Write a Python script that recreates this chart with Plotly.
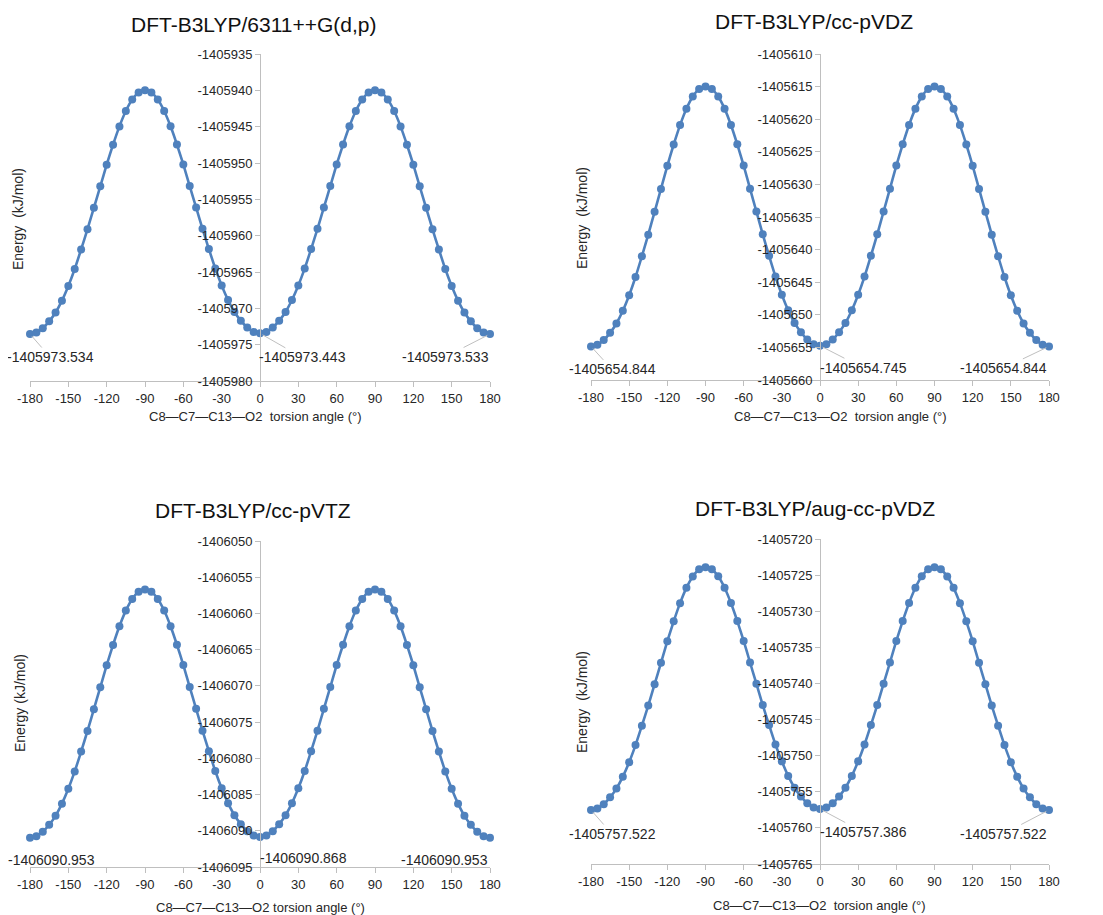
import plotly.graph_objects as go

# page is 1103x915; the html body has an 8px margin at top/left
PAGE_W, PAGE_H = 1103, 915
OFF = 8
W, H = PAGE_W - OFF, PAGE_H - OFF

angles = list(range(-180, 185, 5))

titles = ["DFT-B3LYP/6311++G(d,p)", "DFT-B3LYP/cc-pVDZ",
          "DFT-B3LYP/cc-pVTZ", "DFT-B3LYP/aug-cc-pVDZ"]

energy_6311 = [
    -1405973.534, -1405973.33, -1405972.73, -1405971.79, -1405970.58, -1405968.94,
    -1405966.92, -1405964.58, -1405961.90, -1405959.11, -1405956.16, -1405953.21,
    -1405950.23, -1405947.48, -1405944.96, -1405942.85, -1405941.27, -1405940.30,
    -1405940.00, -1405940.30, -1405941.27, -1405942.84, -1405944.95, -1405947.46,
    -1405950.20, -1405953.18, -1405956.12, -1405959.06, -1405961.84, -1405964.51,
    -1405966.85, -1405968.86, -1405970.50, -1405971.70, -1405972.64, -1405973.24,
    -1405973.443,
    -1405973.24, -1405972.64, -1405971.70, -1405970.50, -1405968.86, -1405966.85,
    -1405964.51, -1405961.84, -1405959.06, -1405956.12, -1405953.18, -1405950.20,
    -1405947.46, -1405944.95, -1405942.84, -1405941.27, -1405940.30, -1405940.00,
    -1405940.30, -1405941.27, -1405942.85, -1405944.96, -1405947.48, -1405950.23,
    -1405953.21, -1405956.16, -1405959.11, -1405961.90, -1405964.58, -1405966.92,
    -1405968.94, -1405970.58, -1405971.79, -1405972.73, -1405973.33, -1405973.533,
]

energy_ccpvdz = [
    -1405654.844, -1405654.60, -1405653.88, -1405652.77, -1405651.33, -1405649.38,
    -1405646.99, -1405644.20, -1405641.02, -1405637.71, -1405634.20, -1405630.70,
    -1405627.15, -1405623.88, -1405620.90, -1405618.39, -1405616.51, -1405615.36,
    -1405615.00, -1405615.36, -1405616.51, -1405618.38, -1405620.88, -1405623.86,
    -1405627.12, -1405630.66, -1405634.16, -1405637.66, -1405640.96, -1405644.14,
    -1405646.92, -1405649.30, -1405651.25, -1405652.68, -1405653.80, -1405654.51,
    -1405654.745,
    -1405654.51, -1405653.80, -1405652.68, -1405651.25, -1405649.30, -1405646.92,
    -1405644.14, -1405640.96, -1405637.66, -1405634.16, -1405630.66, -1405627.12,
    -1405623.86, -1405620.88, -1405618.38, -1405616.51, -1405615.36, -1405615.00,
    -1405615.36, -1405616.51, -1405618.39, -1405620.90, -1405623.88, -1405627.15,
    -1405630.70, -1405634.20, -1405637.71, -1405641.02, -1405644.20, -1405646.99,
    -1405649.38, -1405651.33, -1405652.77, -1405653.88, -1405654.60, -1405654.844,
]

energy_ccpvtz = [
    -1406090.953, -1406090.74, -1406090.13, -1406089.17, -1406087.94, -1406086.26,
    -1406084.20, -1406081.81, -1406079.07, -1406076.22, -1406073.21, -1406070.19,
    -1406067.15, -1406064.34, -1406061.77, -1406059.61, -1406058.00, -1406057.01,
    -1406056.70, -1406057.01, -1406058.00, -1406059.60, -1406061.76, -1406064.32,
    -1406067.12, -1406070.16, -1406073.17, -1406076.18, -1406079.01, -1406081.75,
    -1406084.14, -1406086.19, -1406087.86, -1406089.09, -1406090.05, -1406090.66,
    -1406090.868,
    -1406090.66, -1406090.05, -1406089.09, -1406087.86, -1406086.19, -1406084.14,
    -1406081.75, -1406079.01, -1406076.18, -1406073.17, -1406070.16, -1406067.12,
    -1406064.32, -1406061.76, -1406059.60, -1406058.00, -1406057.01, -1406056.70,
    -1406057.01, -1406058.00, -1406059.61, -1406061.77, -1406064.34, -1406067.15,
    -1406070.19, -1406073.21, -1406076.22, -1406079.07, -1406081.81, -1406084.20,
    -1406086.26, -1406087.94, -1406089.17, -1406090.13, -1406090.74, -1406090.953,
]

energy_augccpvdz = [
    -1405757.522, -1405757.32, -1405756.71, -1405755.77, -1405754.56, -1405752.91,
    -1405750.90, -1405748.54, -1405745.85, -1405743.06, -1405740.10, -1405737.15,
    -1405734.15, -1405731.40, -1405728.88, -1405726.76, -1405725.18, -1405724.20,
    -1405723.90, -1405724.20, -1405725.17, -1405726.75, -1405728.86, -1405731.37,
    -1405734.11, -1405737.10, -1405740.04, -1405742.99, -1405745.77, -1405748.45,
    -1405750.79, -1405752.80, -1405754.44, -1405755.65, -1405756.59, -1405757.19,
    -1405757.386,
    -1405757.19, -1405756.59, -1405755.65, -1405754.44, -1405752.80, -1405750.79,
    -1405748.45, -1405745.77, -1405742.99, -1405740.04, -1405737.10, -1405734.11,
    -1405731.37, -1405728.86, -1405726.75, -1405725.17, -1405724.20, -1405723.90,
    -1405724.20, -1405725.18, -1405726.76, -1405728.88, -1405731.40, -1405734.15,
    -1405737.15, -1405740.10, -1405743.06, -1405745.85, -1405748.54, -1405750.90,
    -1405752.91, -1405754.56, -1405755.77, -1405756.71, -1405757.32, -1405757.522,
]

series = [energy_6311, energy_ccpvdz, energy_ccpvtz, energy_augccpvdz]

# labelled points
label_angles = [-180, 0, 180]
labels_6311 = ["-1405973.534", "-1405973.443", "-1405973.533"]
labels_ccpvdz = ["-1405654.844", "-1405654.745", "-1405654.844"]
labels_ccpvtz = ["-1406090.953", "-1406090.868", "-1406090.953"]
labels_augccpvdz = ["-1405757.522", "-1405757.386", "-1405757.522"]
point_labels = [labels_6311, labels_ccpvdz, labels_ccpvtz, labels_augccpvdz]

y_ranges = [(-1405980, -1405935), (-1405660, -1405610),
            (-1406095, -1406050), (-1405765, -1405720)]
x_ticks = list(range(-180, 181, 30))

x_titles = ["C8\u2014C7\u2014C13\u2014O2  torsion angle (\u00b0)",
            "C8\u2014C7\u2014C13\u2014O2  torsion angle (\u00b0)",
            "C8\u2014C7\u2014C13\u2014O2 torsion angle (\u00b0)",
            "C8\u2014C7\u2014C13\u2014O2  torsion angle (\u00b0)"]
y_titles = ["Energy  (kJ/mol)", "Energy  (kJ/mol)", "Energy (kJ/mol)", "Energy  (kJ/mol)"]

# layout geometry in page pixels: (left, right, top, bottom)
boxes = [(30, 490, 54, 381), (591, 1049, 54, 380),
         (30, 490, 541, 867), (591, 1049, 539, 864)]
title_pos = [(254, 25), (814, 22), (253, 510), (815, 508)]
xtitle_pos = [(255, 417), (841, 417), (260, 907), (819, 905)]
ytitle_pos = [(18, 219), (582, 218), (20, 703), (582, 702)]
label_offsets = [
    [(20, 23), (42, 24), (-45, 23)],
    [(21, 23), (43, 22), (-46, 22)],
    [(21, 22), (43, 21), (-46, 22)],
    [(21, 24), (43, 23), (-46, 24)],
]
leader_visible = [True, True, False, True]

BLUE = "#4F81BD"
FONT = "Liberation Sans, Arial, sans-serif"
TXT = "#262626"
AXC = "#BFBFBF"

fig = go.Figure()
layout = dict(width=W, height=H, margin=dict(l=0, r=0, t=0, b=0, autoexpand=False),
              paper_bgcolor="white", plot_bgcolor="white", showlegend=False,
              font=dict(family=FONT, size=13, color=TXT))
annotations = []


def px(x):
    return (x - OFF) / W


def py(y):
    return 1 - (y - OFF) / H


for i in range(4):
    n = "" if i == 0 else str(i + 1)
    l, r, t, b = boxes[i]
    fig.add_trace(go.Scatter(
        x=angles, y=series[i], mode="lines+markers",
        xaxis="x" + n, yaxis="y" + n,
        line=dict(color=BLUE, width=2.6, shape="spline", smoothing=0.6),
        marker=dict(color=BLUE, size=8),
        cliponaxis=False, hoverinfo="x+y"))
    y0, y1 = y_ranges[i]
    yt = list(range(y0, y1 + 1, 5))
    layout["xaxis" + n] = dict(
        domain=[px(l), px(r)], range=[-180, 180], anchor="y" + n, automargin=False,
        tickvals=x_ticks, ticktext=[str(v) for v in x_ticks],
        showgrid=False, zeroline=False, showline=True, linecolor=AXC, linewidth=1,
        ticks="outside", ticklen=5, tickcolor=AXC,
        tickfont=dict(size=13, color=TXT, family=FONT))
    layout["yaxis" + n] = dict(
        domain=[py(b), py(t)], range=[y0, y1], anchor="free", automargin=False,
        position=px((l + r) / 2),
        tickvals=yt, ticktext=[str(v) for v in yt],
        showgrid=False, zeroline=False, showline=True, linecolor=AXC, linewidth=1,
        ticks="outside", ticklen=5, tickcolor=AXC,
        tickfont=dict(size=13, color=TXT, family=FONT))
    tx, ty = title_pos[i]
    annotations.append(dict(text=titles[i], x=px(tx), y=py(ty), xref="paper", yref="paper",
                            showarrow=False, xanchor="center", yanchor="middle",
                            font=dict(size=21, color="#111", family=FONT)))
    ax_, ay_ = xtitle_pos[i]
    annotations.append(dict(text=x_titles[i], x=px(ax_), y=py(ay_), xref="paper", yref="paper",
                            showarrow=False, xanchor="center", yanchor="middle",
                            font=dict(size=13, color=TXT, family=FONT)))
    yx, yy = ytitle_pos[i]
    annotations.append(dict(text=y_titles[i], x=px(yx), y=py(yy), xref="paper", yref="paper",
                            showarrow=False, xanchor="center", yanchor="middle", textangle=-90,
                            font=dict(size=14, color=TXT, family=FONT)))
    for k, ang in enumerate(label_angles):
        idx = angles.index(ang)
        dx, dy = label_offsets[i][k]
        annotations.append(dict(
            text=point_labels[i][k], x=ang, y=series[i][idx],
            xref="x" + n, yref="y" + n, showarrow=True, arrowhead=0,
            arrowwidth=1, arrowcolor=AXC if leader_visible[i] else "rgba(0,0,0,0)",
            ax=dx, ay=dy, standoff=3,
            font=dict(size=14, color=TXT, family=FONT)))

layout["annotations"] = annotations
fig.update_layout(**layout)
fig.write_html("out.html")
